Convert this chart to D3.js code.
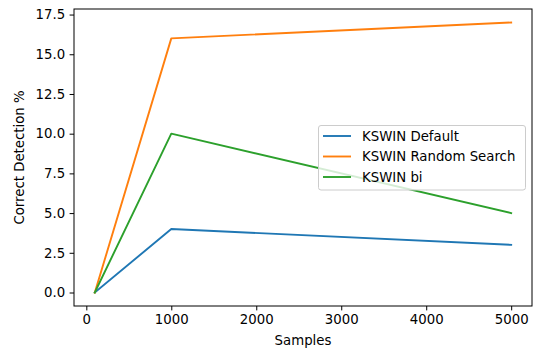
<!DOCTYPE html>
<html><head><meta charset="utf-8">
<script src="https://cdn.jsdelivr.net/npm/d3@7"></script>
<style>body{margin:0;background:#fff;} text{font-family:"DejaVu Sans",sans-serif;}</style>
</head><body><svg id="c" width="536" height="350"></svg>
<script>
const samples = [100, 1000, 5000];
const seriesNames = ["KSWIN Default", "KSWIN Random Search", "KSWIN bi"];
const kswinDefault = [0, 4, 3];
const kswinRandom = [0, 16, 17];
const kswinBi = [0, 10, 5];
const xTicks = [0, 1000, 2000, 3000, 4000, 5000];
const yTicks = [0, 2.5, 5, 7.5, 10, 12.5, 15, 17.5];
const colors = ["#1f77b4", "#ff7f0e", "#2ca02c"];

const svg = d3.select("#c");
const L = 74, R = 532, T = 9, B = 306;
const x = d3.scaleLinear().domain([-145, 5245]).range([L, R]);
const y = d3.scaleLinear().domain([-0.85, 17.85]).range([B, T]);
const fs = 13.3;

const xAxis = d3.axisBottom(x).tickValues(xTicks).tickSize(4.4).tickPadding(4.4).tickFormat(d3.format("d"));
const gx = svg.append("g").attr("transform", `translate(0,${B})`).call(xAxis);
const yAxis = d3.axisLeft(y).tickValues(yTicks).tickSize(4.4).tickPadding(4.4).tickFormat(d3.format(".1f"));
const gy = svg.append("g").attr("transform", `translate(${L},0)`).call(yAxis);
[gx, gy].forEach(g => {
  g.select(".domain").remove();
  g.selectAll(".tick line").attr("stroke", "#000").attr("stroke-width", 1);
  g.selectAll(".tick text").attr("fill", "#000").style("font-size", fs + "px").style("font-family", "DejaVu Sans");
});

const data = [kswinDefault, kswinRandom, kswinBi];
const line = d3.line().x((d, i) => x(samples[i])).y(d => y(d));
data.forEach((s, k) => {
  svg.append("path").datum(s).attr("d", line).attr("fill", "none")
    .attr("stroke", colors[k]).attr("stroke-width", 1.9).attr("stroke-linejoin", "round").attr("stroke-linecap", "square");
});

svg.append("rect").attr("x", L).attr("y", T).attr("width", R - L).attr("height", B - T)
  .attr("fill", "none").attr("stroke", "#000").attr("stroke-width", 1);

// legend
const lg = svg.append("g");
lg.append("rect").attr("x", 318.5).attr("y", 125.5).attr("width", 207).attr("height", 64.5)
  .attr("rx", 2.5).attr("fill", "#fff").attr("fill-opacity", 0.8).attr("stroke", "#ccc").attr("stroke-width", 1);
seriesNames.forEach((n, k) => {
  const yy = 136 + k * 20.5;
  lg.append("line").attr("x1", 323).attr("x2", 351).attr("y1", yy).attr("y2", yy)
    .attr("stroke", colors[k]).attr("stroke-width", 1.9);
  lg.append("text").attr("x", 362).attr("y", yy).attr("dy", "0.35em").style("font-size", fs + "px").text(n);
});

svg.append("text").attr("x", (L + R) / 2).attr("y", 345).attr("text-anchor", "middle").style("font-size", fs + "px").text("Samples");
svg.append("text").attr("transform", `translate(24,${(T + B) / 2}) rotate(-90)`).attr("text-anchor", "middle").style("font-size", fs + "px").text("Correct Detection %");
</script></body></html>
